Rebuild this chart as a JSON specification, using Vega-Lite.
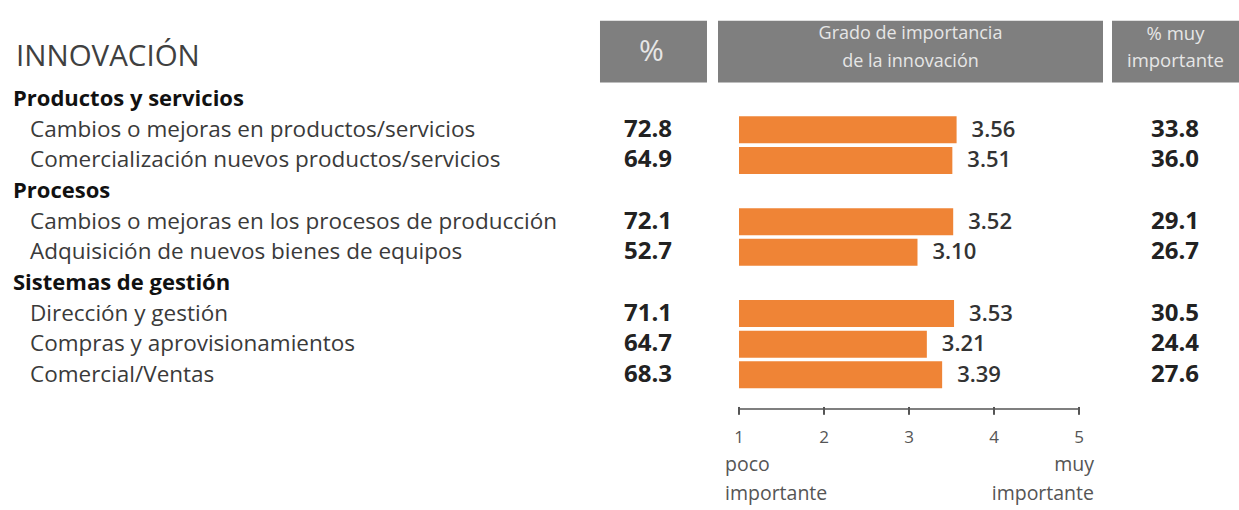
{
  "$schema": "https://vega.github.io/schema/vega-lite/v6.json",
  "width": 1239,
  "height": 510,
  "padding": 0,
  "autosize": {"type": "fit", "contains": "padding"},
  "background": "white",
  "config": {"view": {"stroke": null}, "font": "Open Sans"},
  "datasets": {
    "filas": [
      {"row": 0, "tipo": "grupo", "label": "Productos y servicios"},
      {"row": 1, "tipo": "item", "label": "Cambios o mejoras en productos/servicios", "pct": 72.8, "grado": 3.56, "muy": 33.8},
      {"row": 2, "tipo": "item", "label": "Comercialización nuevos productos/servicios", "pct": 64.9, "grado": 3.51, "muy": 36.0},
      {"row": 3, "tipo": "grupo", "label": "Procesos"},
      {"row": 4, "tipo": "item", "label": "Cambios o mejoras en los procesos de producción", "pct": 72.1, "grado": 3.52, "muy": 29.1},
      {"row": 5, "tipo": "item", "label": "Adquisición de nuevos bienes de equipos", "pct": 52.7, "grado": 3.10, "muy": 26.7},
      {"row": 6, "tipo": "grupo", "label": "Sistemas de gestión"},
      {"row": 7, "tipo": "item", "label": "Dirección y gestión", "pct": 71.1, "grado": 3.53, "muy": 30.5},
      {"row": 8, "tipo": "item", "label": "Compras y aprovisionamientos", "pct": 64.7, "grado": 3.21, "muy": 24.4},
      {"row": 9, "tipo": "item", "label": "Comercial/Ventas", "pct": 68.3, "grado": 3.39, "muy": 27.6}
    ],
    "escala": [{"v": 1}, {"v": 2}, {"v": 3}, {"v": 4}, {"v": 5}],
    "uno": [{}]
  },
  "layer": [
    {
      "data": {"name": "uno"},
      "mark": {"type": "rect", "color": "#7f7f7f"},
      "encoding": {
        "x": {"datum": -0.6353, "type": "quantitative", "scale": {"domain": [-7.6941, 6.8824], "nice": false, "zero": false}, "axis": null},
        "x2": {"datum": 0.6235},
        "y": {"datum": -2.56, "type": "quantitative", "scale": {"domain": [-3.072, 13.248], "reverse": true, "nice": false, "zero": false}, "axis": null},
        "y2": {"datum": -0.544}
      }
    },
    {
      "data": {"name": "uno"},
      "mark": {"type": "rect", "color": "#7f7f7f"},
      "encoding": {
        "x": {"datum": 0.753, "type": "quantitative"},
        "x2": {"datum": 5.2824},
        "y": {"datum": -2.56, "type": "quantitative"},
        "y2": {"datum": -0.544}
      }
    },
    {
      "data": {"name": "uno"},
      "mark": {"type": "rect", "color": "#7f7f7f"},
      "encoding": {
        "x": {"datum": 5.3883, "type": "quantitative"},
        "x2": {"datum": 6.8824},
        "y": {"datum": -2.56, "type": "quantitative"},
        "y2": {"datum": -0.544}
      }
    },
    {
      "data": {"name": "uno"},
      "mark": {"type": "text", "text": "%", "fontSize": 30, "color": "#e6e6e6", "align": "center", "baseline": "middle"},
      "encoding": {
        "x": {"datum": -0.03, "type": "quantitative"},
        "y": {"datum": -1.536, "type": "quantitative"}
      }
    },
    {
      "data": {"name": "uno"},
      "mark": {"type": "text", "text": ["Grado de importancia", "de la innovación"], "lineHeight": 28, "fontSize": 18, "color": "#e6e6e6", "align": "center", "baseline": "middle"},
      "encoding": {
        "x": {"datum": 3.0177, "type": "quantitative"},
        "y": {"datum": -2.12, "type": "quantitative"}
      }
    },
    {
      "data": {"name": "uno"},
      "mark": {"type": "text", "text": ["% muy", "importante"], "lineHeight": 27, "fontSize": 18.5, "color": "#e6e6e6", "align": "center", "baseline": "middle"},
      "encoding": {
        "x": {"datum": 6.1353, "type": "quantitative"},
        "y": {"datum": -2.12, "type": "quantitative"}
      }
    },
    {
      "data": {"name": "uno"},
      "mark": {"type": "text", "text": "INNOVACIÓN", "fontSize": 29.5, "color": "#404040", "align": "left", "baseline": "middle"},
      "encoding": {
        "x": {"datum": -7.5059, "type": "quantitative"},
        "y": {"datum": -1.376, "type": "quantitative"}
      }
    },
    {
      "data": {"name": "filas"},
      "transform": [{"filter": "datum.tipo === 'grupo'"}],
      "mark": {"type": "text", "fontSize": 22, "fontWeight": "bold", "color": "#111111", "align": "left", "baseline": "middle"},
      "encoding": {
        "x": {"datum": -7.5412, "type": "quantitative"},
        "y": {"field": "row", "type": "quantitative"},
        "text": {"field": "label"}
      }
    },
    {
      "data": {"name": "filas"},
      "transform": [{"filter": "datum.tipo === 'item'"}],
      "mark": {"type": "text", "fontSize": 22.5, "color": "#3a3a3a", "align": "left", "baseline": "middle"},
      "encoding": {
        "x": {"datum": -7.3412, "type": "quantitative"},
        "y": {"field": "row", "type": "quantitative"},
        "text": {"field": "label"}
      }
    },
    {
      "data": {"name": "filas"},
      "transform": [{"filter": "datum.tipo === 'item'"}],
      "mark": {"type": "text", "fontSize": 24, "fontWeight": "bold", "color": "#222222", "align": "center", "baseline": "middle"},
      "encoding": {
        "x": {"datum": -0.0706, "type": "quantitative"},
        "y": {"field": "row", "type": "quantitative"},
        "text": {"field": "pct", "type": "quantitative", "format": ".1f"}
      }
    },
    {
      "data": {"name": "filas"},
      "transform": [{"filter": "datum.tipo === 'item'"}],
      "mark": {"type": "bar", "orient": "horizontal", "height": 27, "color": "#EF8436"},
      "encoding": {
        "x": {"field": "grado", "type": "quantitative"},
        "x2": {"datum": 1},
        "y": {"field": "row", "type": "quantitative"}
      }
    },
    {
      "data": {"name": "filas"},
      "transform": [{"filter": "datum.tipo === 'item'"}],
      "mark": {"type": "text", "fontSize": 22, "fontWeight": 600, "color": "#333333", "align": "left", "baseline": "middle", "dx": 15},
      "encoding": {
        "x": {"field": "grado", "type": "quantitative"},
        "y": {"field": "row", "type": "quantitative"},
        "text": {"field": "grado", "type": "quantitative", "format": ".2f"}
      }
    },
    {
      "data": {"name": "filas"},
      "transform": [{"filter": "datum.tipo === 'item'"}],
      "mark": {"type": "text", "fontSize": 24, "fontWeight": "bold", "color": "#222222", "align": "center", "baseline": "middle"},
      "encoding": {
        "x": {"datum": 6.1294, "type": "quantitative"},
        "y": {"field": "row", "type": "quantitative"},
        "text": {"field": "muy", "type": "quantitative", "format": ".1f"}
      }
    },
    {
      "data": {"name": "uno"},
      "mark": {"type": "rule", "color": "#555555", "strokeWidth": 1.5},
      "encoding": {
        "x": {"datum": 1, "type": "quantitative"},
        "x2": {"datum": 5},
        "y": {"datum": 10.112, "type": "quantitative"}
      }
    },
    {
      "data": {"name": "escala"},
      "mark": {"type": "rule", "color": "#555555", "strokeWidth": 2},
      "encoding": {
        "x": {"field": "v", "type": "quantitative"},
        "y": {"datum": 10.048, "type": "quantitative"},
        "y2": {"datum": 10.304}
      }
    },
    {
      "data": {"name": "escala"},
      "mark": {"type": "text", "fontSize": 17, "color": "#555555", "align": "center", "baseline": "middle"},
      "encoding": {
        "x": {"field": "v", "type": "quantitative"},
        "y": {"datum": 11.072, "type": "quantitative"},
        "text": {"field": "v", "type": "quantitative"}
      }
    },
    {
      "data": {"name": "uno"},
      "mark": {"type": "text", "text": ["poco", "importante"], "lineHeight": 29, "fontSize": 19.5, "color": "#555555", "align": "left", "baseline": "middle", "dx": -14},
      "encoding": {
        "x": {"datum": 1, "type": "quantitative"},
        "y": {"datum": 11.936, "type": "quantitative"}
      }
    },
    {
      "data": {"name": "uno"},
      "mark": {"type": "text", "text": ["muy", "importante"], "lineHeight": 29, "fontSize": 19.5, "color": "#555555", "align": "right", "baseline": "middle", "dx": 15},
      "encoding": {
        "x": {"datum": 5, "type": "quantitative"},
        "y": {"datum": 11.936, "type": "quantitative"}
      }
    }
  ]
}
